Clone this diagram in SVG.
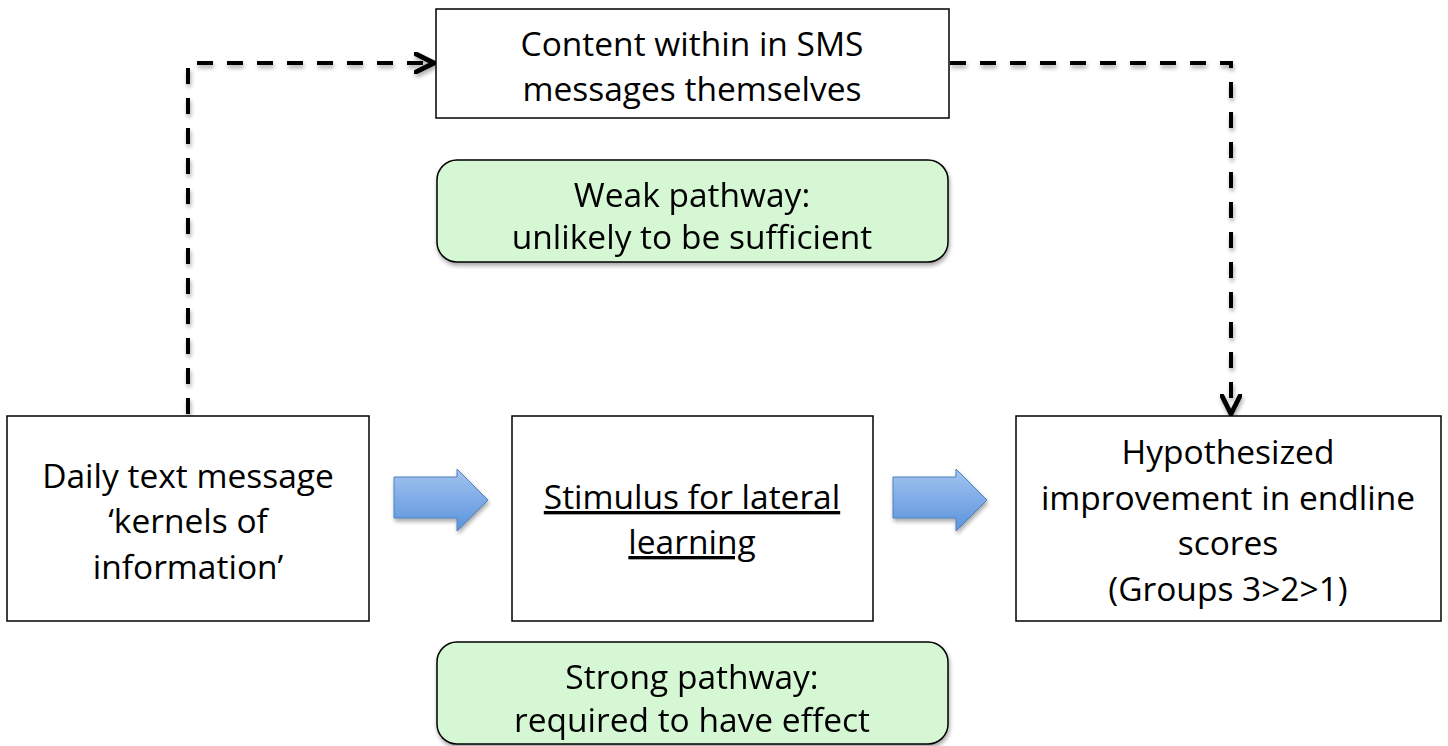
<svg xmlns="http://www.w3.org/2000/svg" width="1448" height="746" viewBox="0 0 1448 746">
<defs>
<filter id="sh" x="-10%" y="-10%" width="120%" height="130%">
<feGaussianBlur in="SourceAlpha" stdDeviation="2"/>
<feOffset dx="1" dy="3" result="b"/>
<feComponentTransfer><feFuncA type="linear" slope="0.35"/></feComponentTransfer>
<feMerge><feMergeNode/><feMergeNode in="SourceGraphic"/></feMerge>
</filter>
<linearGradient id="bg" x1="0" y1="0" x2="0" y2="1">
<stop offset="0" stop-color="#a3c4f0"/>
<stop offset="1" stop-color="#5a93dc"/>
</linearGradient>
<marker id="ah" viewBox="0 0 12 12" refX="11" refY="6" markerWidth="5.5" markerHeight="5.5" orient="auto" markerUnits="strokeWidth">
<path d="M1,1 L11,6 L1,11" fill="none" stroke="#000" stroke-width="2.6" stroke-linecap="round" stroke-linejoin="round"/>
</marker>
</defs>
<style>
.box{fill:#fff;stroke:#000;stroke-width:1.5}
.green{fill:#d5f7d3;stroke:#000;stroke-width:1.5}
.t{font-family:"Open Sans",Lato,"Liberation Sans",sans-serif;font-size:33.5px;fill:#000;text-anchor:middle}
.u{text-decoration:underline}
.dash{fill:none;stroke:#000;stroke-width:4;stroke-dasharray:16 14}
.blue{fill:url(#bg);stroke:#4f81bd;stroke-width:1}
</style>
<rect width="1448" height="746" fill="#fff"/>
<g id="connectors" filter="url(#sh)">
<path class="dash" d="M188,414 L188,63 L434,63" marker-end="url(#ah)"/>
<path class="dash" d="M950,63 L1231,63 L1231,414" marker-end="url(#ah)"/>
<path class="blue" d="M394,477 L457,477 L457,469 L488,500 L457,531 L457,518 L394,518 Z"/>
<path class="blue" d="M893,477 L956,477 L956,469 L987,500 L956,531 L956,518 L893,518 Z"/>
</g>
<g id="sms">
<rect class="box" x="436" y="9" width="513" height="109"/>
<text class="t" x="692" y="56">Content within in SMS</text>
<text class="t" x="692" y="101">messages themselves</text>
</g>
<g id="weak" filter="url(#sh)">
<rect class="green" x="437" y="160" width="511" height="102" rx="20"/>
<text class="t" x="692" y="207">Weak pathway:</text>
<text class="t" x="692" y="249">unlikely to be sufficient</text>
</g>
<g id="daily">
<rect class="box" x="7" y="416" width="362" height="205"/>
<text class="t" x="188" y="488">Daily text message</text>
<text class="t" x="188" y="533">‘kernels of</text>
<text class="t" x="188" y="579">information’</text>
</g>
<g id="stimulus">
<rect class="box" x="512" y="416" width="361" height="205"/>
<text class="t u" x="692" y="509">Stimulus for lateral</text>
<text class="t u" x="692" y="554">learning</text>
</g>
<g id="hypo">
<rect class="box" x="1016" y="416" width="425" height="205"/>
<text class="t" x="1228" y="464">Hypothesized</text>
<text class="t" x="1228" y="510">improvement in endline</text>
<text class="t" x="1228" y="555">scores</text>
<text class="t" x="1228" y="601">(Groups 3&gt;2&gt;1)</text>
</g>
<g id="strong" filter="url(#sh)">
<rect class="green" x="437" y="642" width="511" height="102" rx="20"/>
<text class="t" x="692" y="689">Strong pathway:</text>
<text class="t" x="692" y="732">required to have effect</text>
</g>
</svg>
